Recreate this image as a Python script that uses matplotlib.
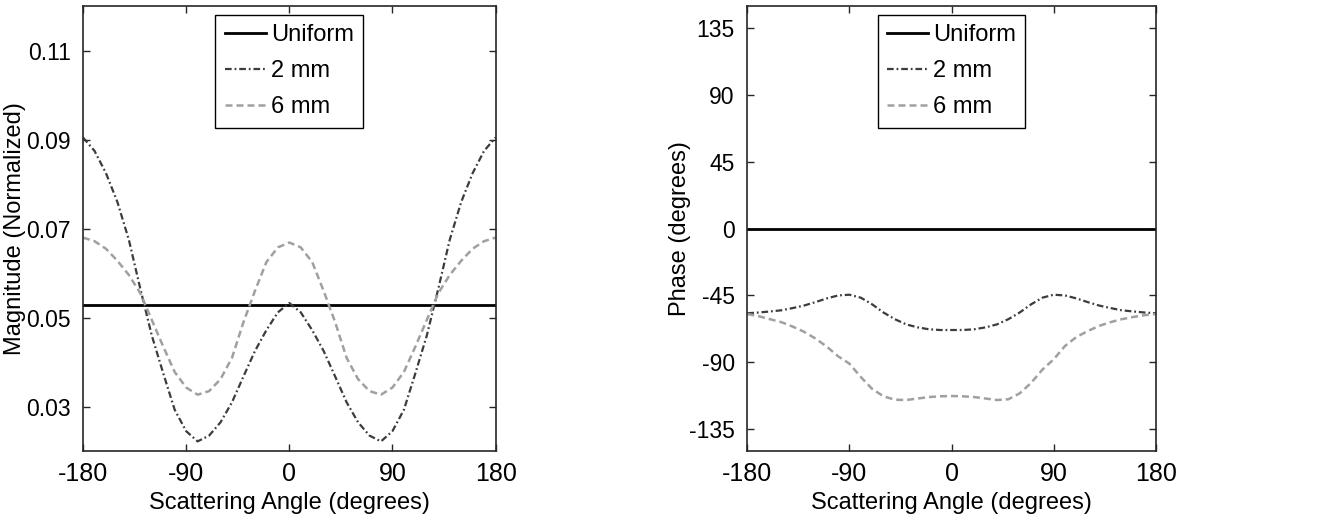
import numpy as np
import matplotlib
matplotlib.use("Agg")
import matplotlib.pyplot as plt

plt.rcParams['font.family'] = ['Liberation Sans', 'DejaVu Sans']
plt.rcParams['axes.unicode_minus'] = False

# scattering angle samples (degrees)
angle = list(range(-180, 181, 10))

# magnitude (normalized)
mag_uniform = [0.0529] * len(angle)
mag_2mm = [0.0905, 0.0875, 0.0825, 0.0760, 0.0675, 0.0565, 0.0460, 0.0375, 0.0293, 0.0245,
           0.0222, 0.0235, 0.0265, 0.0310, 0.0368, 0.0425, 0.0472, 0.0512, 0.0533,
           0.0512, 0.0472, 0.0425, 0.0368, 0.0310, 0.0265, 0.0235, 0.0222, 0.0245, 0.0293,
           0.0375, 0.0460, 0.0565, 0.0675, 0.0760, 0.0825, 0.0875, 0.0905]
mag_6mm = [0.0680, 0.0672, 0.0655, 0.0628, 0.0596, 0.0555, 0.0495, 0.0435, 0.0378, 0.0343,
           0.0327, 0.0335, 0.0362, 0.0410, 0.0490, 0.0560, 0.0625, 0.0658, 0.0669,
           0.0658, 0.0625, 0.0560, 0.0490, 0.0410, 0.0362, 0.0335, 0.0327, 0.0343, 0.0378,
           0.0435, 0.0495, 0.0555, 0.0596, 0.0628, 0.0655, 0.0672, 0.0680]

# phase (degrees)
ph_uniform = [0.0] * len(angle)
ph_2mm = [-57.0, -56.5, -55.8, -55.0, -53.5, -51.8, -49.5, -47.0, -45.0, -44.5,
          -46.5, -51.0, -56.5, -61.0, -64.5, -66.5, -67.8, -68.3, -68.3,
          -68.3, -67.8, -66.5, -64.5, -61.0, -56.5, -51.0, -46.5, -44.5, -45.0,
          -47.0, -49.5, -51.8, -53.5, -55.0, -55.8, -56.5, -57.0]
ph_6mm = [-57.5, -59.0, -61.0, -63.0, -66.0, -69.5, -74.0, -79.5, -86.0, -91.0,
          -100.0, -108.0, -113.0, -115.3, -115.5, -114.5, -113.5, -113.0, -112.8,
          -113.0, -113.5, -114.5, -115.5, -115.0, -111.0, -104.0, -95.0, -88.0, -79.0,
          -73.0, -69.0, -65.5, -63.0, -61.0, -59.5, -58.3, -57.5]

xticks = [-180, -90, 0, 90, 180]
mag_ticks = [0.03, 0.05, 0.07, 0.09, 0.11]
ph_ticks = [-135, -90, -45, 0, 45, 90, 135]
labels = ['Uniform', '2 mm', '6 mm']

TICK_FS = 16.5
LABEL_FS = 17

fig = plt.figure(figsize=(13.18, 5.21), dpi=100)
ax1 = fig.add_axes([0.063, 0.134, 0.313, 0.854])
ax2 = fig.add_axes([0.567, 0.134, 0.310, 0.854])


def style_axes(ax):
    for sp in ax.spines.values():
        sp.set_color('#262626')
        sp.set_linewidth(1.2)
    ax.tick_params(direction='in', top=True, right=True, length=5, width=1,
                   color='#262626', labelsize=TICK_FS, pad=9)
    ax.tick_params(axis='x', labelsize=18, pad=8)
    ax.set_xlim(-180, 180)
    ax.set_xticks(xticks)
    ax.set_xlabel('Scattering Angle (degrees)', fontsize=LABEL_FS, labelpad=4)


def draw(ax, uni, s2, s6):
    ax.plot(angle, uni, color='black', lw=2.0, label=labels[0])
    ax.plot(angle, s2, color='#3c3c3c', lw=1.6, ls=(0, (3, 1.3, 0.8, 1.3)), label=labels[1])
    ax.plot(angle, s6, color='#a0a0a0', lw=1.8, ls=(0, (2.8, 1.6)), label=labels[2])
    leg = ax.legend(loc='upper center', fontsize=17, frameon=True, fancybox=False,
                    edgecolor='black', framealpha=1, handlelength=1.75, handletextpad=0.2,
                    labelspacing=0.6, borderaxespad=0.35, borderpad=0.4)
    leg.get_frame().set_linewidth(1.0)


draw(ax1, mag_uniform, mag_2mm, mag_6mm)
style_axes(ax1)
ax1.set_ylim(0.02, 0.12)
ax1.set_yticks(mag_ticks)
ax1.set_yticklabels(['0.03', '0.05', '0.07', '0.09', '0.11'])
ax1.set_ylabel('Magnitude (Normalized)', fontsize=LABEL_FS)
ax1.yaxis.set_label_coords(-0.138, 0.5)

draw(ax2, ph_uniform, ph_2mm, ph_6mm)
style_axes(ax2)
ax2.set_ylim(-150, 150)
ax2.set_yticks(ph_ticks)
ax2.set_ylabel('Phase (degrees)', fontsize=LABEL_FS)
ax2.yaxis.set_label_coords(-0.137, 0.5)

fig.savefig('out.png', dpi=100)
